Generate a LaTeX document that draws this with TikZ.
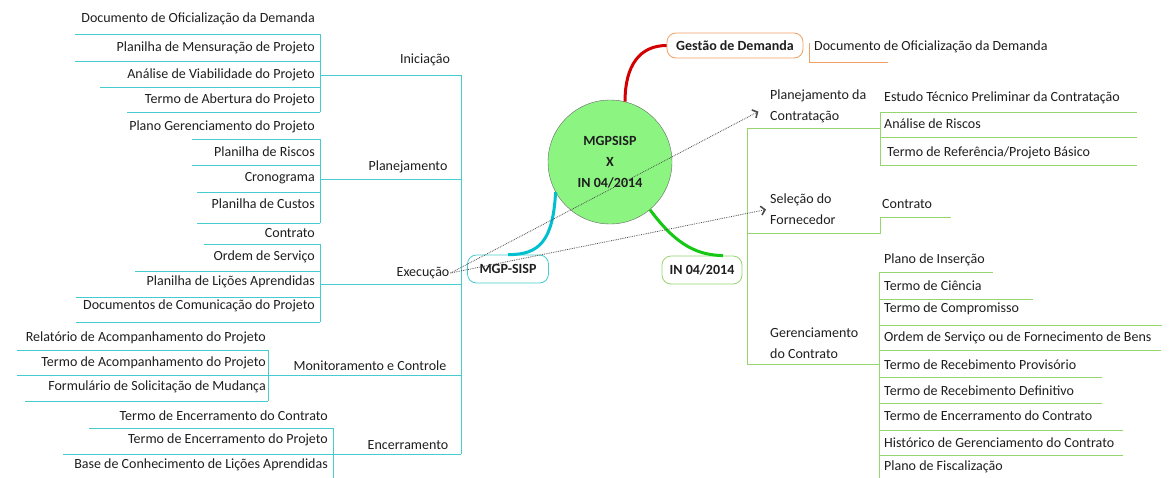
\documentclass[tikz,border=0pt]{standalone}
\usepackage{fontspec}
\setmainfont{Carlito}
\usetikzlibrary{arrows.meta}
\definecolor{txt}{RGB}{30,30,30}
\definecolor{cyanl}{RGB}{70,204,206}
\definecolor{cyanb}{RGB}{0,192,208}
\definecolor{greenl}{RGB}{150,212,110}
\definecolor{greenb}{RGB}{20,200,20}
\definecolor{orangel}{RGB}{240,160,100}
\definecolor{redb}{RGB}{210,0,0}
\definecolor{hubfill}{RGB}{140,245,130}

\begin{document}
\begin{tikzpicture}[x=1pt,y=-1pt,>={Straight Barb[length=4pt,width=9pt,line width=1.6pt]},
  every node/.style={font=\fontsize{14}{21}\selectfont,text=txt,inner sep=1pt},
  leaf/.style={anchor=east},
  rleaf/.style={anchor=west},
  topic/.style={anchor=west,align=left},
  cline/.style={draw=cyanl,line width=1pt},
  gline/.style={draw=greenl,line width=1pt},
  oline/.style={draw=orangel,line width=0.9pt},
  hub/.style={circle,draw=gray!80!black,fill=hubfill,minimum size=124pt,align=center,
    font=\fontsize{14}{21}\selectfont\bfseries},
  mainbox/.style={rounded corners=9pt,line width=0.8pt,minimum height=28pt,
    font=\fontsize{14}{16}\selectfont\bfseries},
  branch/.style={line width=3pt},
  link/.style={densely dotted,draw=black!70,line width=0.8pt,->}]
  \useasboundingbox (0,0) rectangle (1170,477);

  % Centre and main topics
  \node[hub] (hub) at (610,162) {MGPSISP\\X\\IN 04/2014};
  \node[mainbox,draw=cyanl,minimum width=81pt] (mgp) at (508,269) {MGP-SISP};
  \node[mainbox,draw=greenl,minimum width=80pt] (in) at (702,270) {IN 04/2014};
  \node[mainbox,draw=orangel,minimum width=136pt,minimum height=25pt] (gest) at (735,45.5) {Gestão de Demanda};
  \draw[branch,cyanb] (hub.209) .. controls (553,240) and (540,255) .. (mgp.north);
  \draw[branch,redb] (hub.76) .. controls (625,65) and (640,45.5) .. (gest.west);
  \draw[branch,greenb] (hub.310) .. controls (678,248) and (700,255) .. ([xshift=21pt]in.north);

  % Gestao de Demanda
  \node[rleaf] (gdoc) at (813,47) {Documento de Oficialização da Demanda};
  \draw[oline] (809,43) -- (809,62) -- (888,62);

  % MGP-SISP: phases on the left
  \draw[cline] (461,75) -- (461,454);
  \node (ini) at (425,60) {Iniciação};
  \foreach \t/\ty/\ly/\lx [count=\i] in {Documento de Oficialização da Demanda/19/34/75,
      Planilha de Mensuração de Projeto/48/61/75,
      Análise de Viabilidade do Projeto/75/87/100,
      Termo de Abertura do Projeto/100/112/127}{
    \node[leaf] (ini\i) at (316,\ty) {\t};
    \draw[cline] (\lx,\ly) -- (320,\ly);
  }
  \draw[cline] (320,34) -- (320,112) (320,75) -- (461,75);

  \node (pla) at (408,167) {Planejamento};
  \foreach \t/\ty/\ly/\lx [count=\i] in {Plano Gerenciamento do Projeto/127/139/192,
      Planilha de Riscos/152/165/192,
      Cronograma/178/192/197,
      Planilha de Custos/204/223/197}{
    \node[leaf] (pla\i) at (316,\ty) {\t};
    \draw[cline] (\lx,\ly) -- (320,\ly);
  }
  \draw[cline] (320,139) -- (320,223) (320,179) -- (461,179);

  \node (exe) at (423,273) {Execução};
  \foreach \t/\ty/\ly/\lx [count=\i] in {Contrato/233/244/204,
      Ordem de Serviço/257/271/135,
      Planilha de Lições Aprendidas/282/297/76,
      Documentos de Comunicação do Projeto/306/322/76}{
    \node[leaf] (exe\i) at (316,\ty) {\t};
    \draw[cline] (\lx,\ly) -- (320,\ly);
  }
  \draw[cline] (320,244) -- (320,322) (320,284) -- (461,284);

  \node (mon) at (370,366) {Monitoramento e Controle};
  \foreach \t/\ty/\ly/\lx [count=\i] in {Relatório de Acompanhamento do Projeto/338/350/17,
      Termo de Acompanhamento do Projeto/363/375/17,
      Formulário de Solicitação de Mudança/387/401/25}{
    \node[leaf] (mon\i) at (267,\ty) {\t};
    \draw[cline] (\lx,\ly) -- (268,\ly);
  }
  \draw[cline] (268,350) -- (268,401) (268,375) -- (461,375);

  \node (enc) at (408,445) {Encerramento};
  \foreach \t/\ty/\ly/\lx [count=\i] in {Termo de Encerramento do Contrato/416/428/89,
      Termo de Encerramento do Projeto/440/454/63,
      Base de Conhecimento de Lições Aprendidas/465/480/60}{
    \node[leaf] (enc\i) at (329,\ty) {\t};
    \draw[cline] (\lx,\ly) -- (333,\ly);
  }
  \draw[cline] (333,428) -- (333,480) (333,454) -- (461,454);

  % IN 04/2014: phases on the right
  \draw[gline] (747,128) -- (747,364);
  \node[topic] (planc) at (769,106) {Planejamento da\\Contratação};
  \node[rleaf] (pc1) at (883,98) {Estudo Técnico Preliminar da Contratação};
  \node[rleaf] (pc2) at (883,124) {Análise de Riscos};
  \node[rleaf] (pc3) at (886,153) {Termo de Referência/Projeto Básico};
  \draw[gline] (747,128) -- (880,128) (880,112) -- (880,165)
    (880,112) -- (1137,112) (880,137) -- (1137,137) (880,165) -- (1137,165);

  \node[topic] (selc) at (769,209) {Seleção do\\Fornecedor};
  \node[rleaf] (sc1) at (881,204) {Contrato};
  \draw[gline] (747,233) -- (880,233) -- (880,217) -- (951,217);

  \node[topic] (gerc) at (769,343) {Gerenciamento\\do Contrato};
  \foreach \t/\ty/\ly/\lx [count=\i] in {Plano de Inserção/260/272/993,
      Termo de Ciência/286/299/1033,
      Termo de Compromisso/309/325/1162,
      Ordem de Serviço ou de Fornecimento de Bens/338/350/1161,
      Termo de Recebimento Provisório/365/377/1102,
      Termo de Recebimento Definitivo/391/403/1102,
      Termo de Encerramento do Contrato/416/430/1123,
      Histórico de Gerenciamento do Contrato/443/455/1123,
      Plano de Fiscalização/467/480/1123}{
    \node[rleaf] (gc\i) at (883,\ty) {\t};
    \draw[gline] (879,\ly) -- (\lx,\ly);
  }
  \draw[gline] (747,364) -- (879,364) (879,272) -- (879,480);

  % Links between the two methods
  \draw[link,shorten >=12pt] (exe.east) -- (planc.west);
  \draw[link,shorten >=3pt] (exe.east) -- (selc.west);
\end{tikzpicture}
\end{document}
